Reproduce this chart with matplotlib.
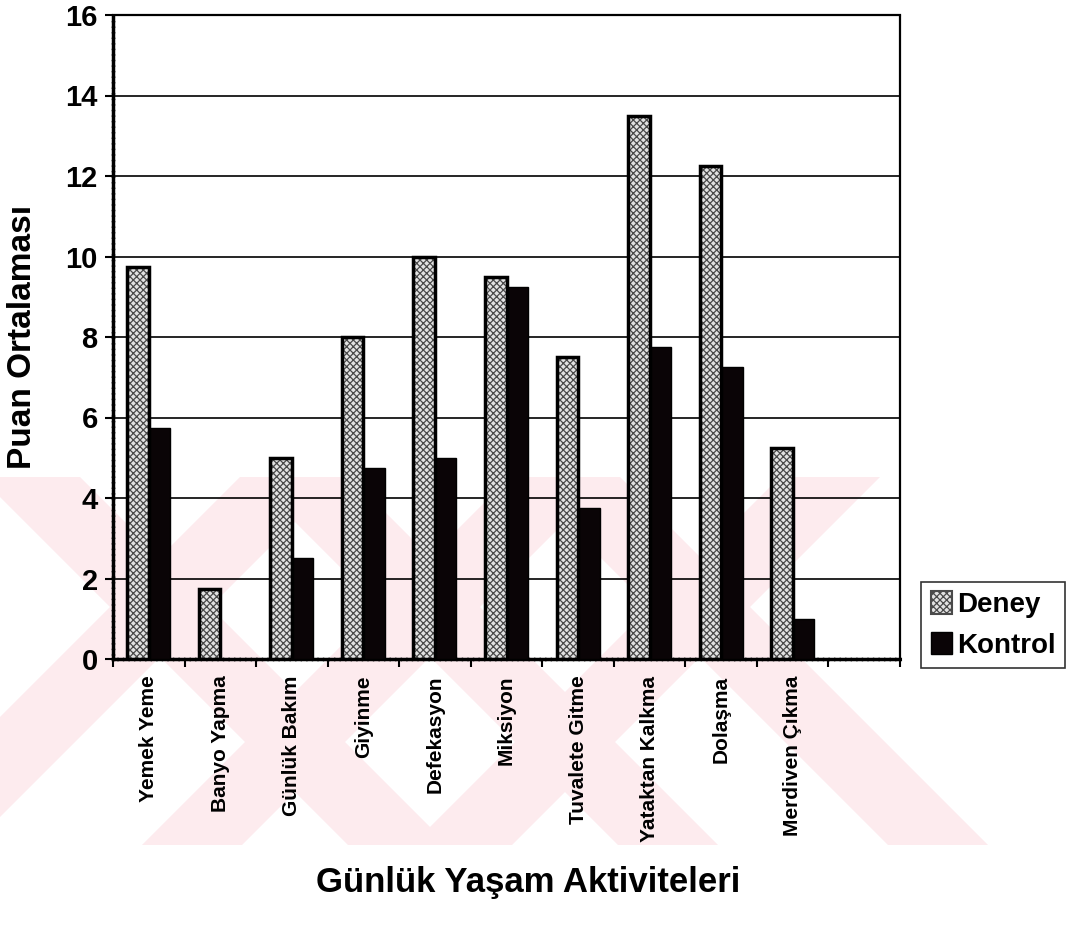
import numpy as np
import matplotlib
matplotlib.use('Agg')
from matplotlib import pyplot as plt
from matplotlib.patches import Polygon, Patch

categories = ['Yemek Yeme', 'Banyo Yapma', 'Günlük Bakım', 'Giyinme', 'Defekasyon',
              'Miksiyon', 'Tuvalete Gitme', 'Yataktan Kalkma', 'Dolaşma', 'Merdiven Çıkma']
deney = [9.75, 1.75, 5.0, 8.0, 10.0, 9.5, 7.5, 13.5, 12.25, 5.25]
kontrol = [5.75, 0.0, 2.5, 4.75, 5.0, 9.25, 3.75, 7.75, 7.25, 1.0]
y_ticks = [0, 2, 4, 6, 8, 10, 12, 14, 16]

plt.rcParams['font.family'] = ['Liberation Sans', 'DejaVu Sans']
plt.rcParams['font.weight'] = 'bold'
plt.rcParams['hatch.linewidth'] = 0.9

W, H = 1073, 939
fig = plt.figure(figsize=(W / 100, H / 100), dpi=100)

# tez filigranı (soluk pembe çapraz şeritler), grafiğin arkasında
band_top, band_bot = 477, 845
bh = band_bot - band_top
sw = 100
def px(x, y):
    return (x / W, 1 - y / H)
for a in [-20, 250, 520]:
    pts = [px(a, band_top), px(a + sw, band_top), px(a + sw + bh, band_bot), px(a + bh, band_bot)]
    fig.patches.append(Polygon(pts, closed=True, transform=fig.transFigure,
                               facecolor='#fdebee', edgecolor='none', zorder=-5))
for a in [240, 510, 780]:
    pts = [px(a, band_top), px(a + sw, band_top), px(a + sw - bh, band_bot), px(a - bh, band_bot)]
    fig.patches.append(Polygon(pts, closed=True, transform=fig.transFigure,
                               facecolor='#fdebee', edgecolor='none', zorder=-5))

ax = fig.add_axes([113 / W, 1 - 659 / H, 787 / W, 644 / H])
ax.set_facecolor('none')

x = np.arange(len(categories))
bw = 0.3
ax.bar(x - bw / 2, deney, bw, color='#e2e2e2', hatch='xxxxx', edgecolor='#4a4a4a', linewidth=0, zorder=3)
ax.bar(x - bw / 2, deney, bw, fill=False, edgecolor='black', linewidth=2.5, zorder=4)
ax.bar(x + bw / 2, kontrol, bw, color='#0a0406', edgecolor='black', linewidth=1, zorder=3)

ax.set_xlim(-0.5, len(categories) + 0.5)
ax.set_ylim(0, 16)
ax.set_yticks(y_ticks)
ax.set_yticklabels([str(v) for v in y_ticks], fontsize=21, fontweight='bold')
ax.yaxis.grid(True, color='black', linewidth=1.2, zorder=1)
ax.set_axisbelow(True)

ax.set_xticks(x)
ax.set_xticklabels(categories, rotation=90, fontsize=15, fontweight='bold', va='top', ha='center')
ax.set_xticks(np.arange(len(categories) + 2) - 0.5, minor=True)
ax.tick_params(axis='x', which='major', length=0, pad=12)
ax.tick_params(axis='x', which='minor', length=6, width=1.5, direction='out')
ax.tick_params(axis='y', length=6, width=1.5, direction='out', pad=5)

for s in ['top', 'right']:
    ax.spines[s].set_linestyle((0, (1, 1)))
    ax.spines[s].set_linewidth(1.6)
for s in ['left', 'bottom']:
    ax.spines[s].set_linewidth(2.5)
    ax.spines[s].set_linestyle((0, (1, 0.6)))

ax.set_ylabel('Puan Ortalaması', fontsize=24, fontweight='bold')
ax.yaxis.set_label_coords(-0.095, 0.5)
ax.set_xlabel('Günlük Yaşam Aktiviteleri', fontsize=25, fontweight='bold', va='top')
ax.xaxis.set_label_coords(0.527, -0.322)

handles = [Patch(facecolor='#e2e2e2', hatch='xxxxx', edgecolor='#4a4a4a', linewidth=1.5),
           Patch(facecolor='#0a0406', edgecolor='black')]
leg = fig.legend(handles, ['Deney', 'Kontrol'], loc='center left', bbox_to_anchor=(921 / W, 1 - 625 / H),
                 frameon=True, fancybox=False, edgecolor='black', fontsize=20,
                 handlelength=0.75, handleheight=0.85, handletextpad=0.2, borderpad=0.35,
                 labelspacing=0.5, borderaxespad=0)
leg.get_frame().set_linewidth(1.2)
for t in leg.get_texts():
    t.set_fontweight('bold')

fig.savefig('out.png', dpi=100)
